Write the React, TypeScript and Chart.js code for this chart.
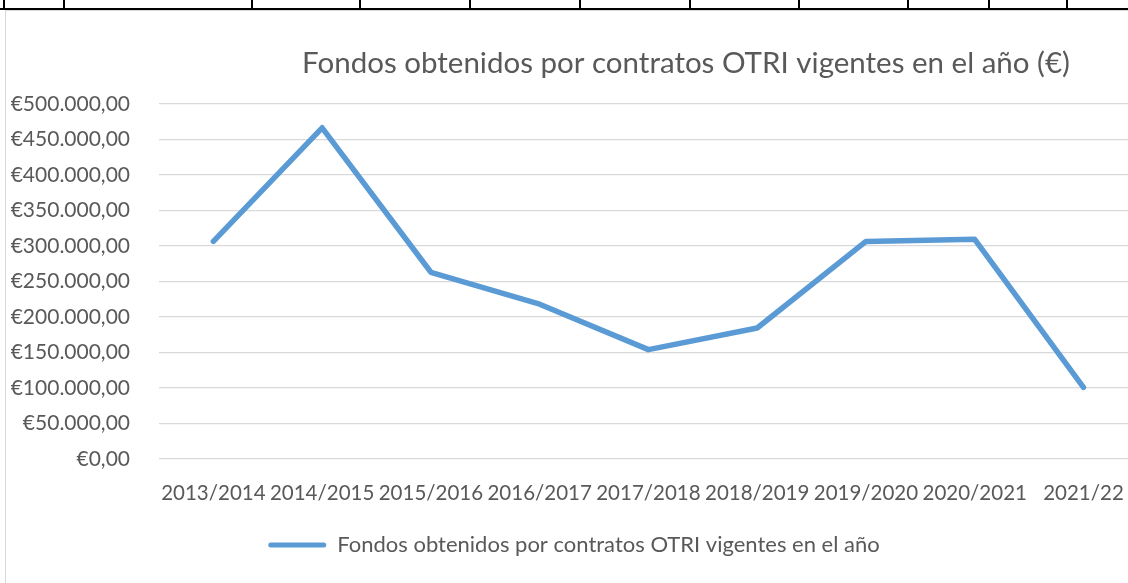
import React, { useEffect, useRef } from "react";
import { Chart, registerables } from "chart.js";

Chart.register(...registerables);

const categories = [
  "2013/2014",
  "2014/2015",
  "2015/2016",
  "2016/2017",
  "2017/2018",
  "2018/2019",
  "2019/2020",
  "2020/2021",
  "2021/22",
];
const fondos = [306500, 466500, 263000, 218000, 154000, 184500, 306500, 309500, 101000];
const seriesLabel = "Fondos obtenidos por contratos OTRI vigentes en el año";
const chartTitle = "Fondos obtenidos por contratos OTRI vigentes en el año (€)";
const yMin = 0;
const yMax = 500000;
const yStep = 50000;

const sheetColumnLines = [3, 63, 251, 359, 469, 579, 689, 798, 907, 988, 1066];

const TEXT = "#595959";
const GRID = "#D9D9D9";
const BLUE = "#5B9BD5";
const FONT = "Lato, 'Liberation Sans', sans-serif";

function euro(v: number): string {
  const intPart = Math.round(v).toString().replace(/\B(?=(\d{3})+(?!\d))/g, ".");
  return "€" + intPart + ",00";
}

const titlePlugin = {
  id: "excelTitle",
  afterDraw(chart: any) {
    const ctx = chart.ctx;
    ctx.save();
    ctx.font = `29.5px ${FONT}`;
    ctx.fillStyle = TEXT;
    ctx.textAlign = "center";
    ctx.textBaseline = "middle";
    ctx.fillText(chartTitle, 680, 52);
    ctx.restore();
  },
};

export default function App() {
  const ref = useRef<HTMLCanvasElement | null>(null);

  useEffect(() => {
    if (!ref.current) return;
    const chart = new Chart(ref.current, {
      type: "line",
      data: {
        labels: categories,
        datasets: [
          {
            label: seriesLabel,
            data: fondos,
            borderColor: BLUE,
            backgroundColor: BLUE,
            borderWidth: 5.5,
            borderCapStyle: "round",
            borderJoinStyle: "round",
            pointRadius: 0,
            pointHoverRadius: 0,
            tension: 0,
            fill: false,
          },
        ],
      },
      options: {
        animation: false,
        responsive: false,
        maintainAspectRatio: false,
        layout: { padding: { top: 93, bottom: 17, left: 0, right: 4 } },
        plugins: {
          title: { display: false },
          tooltip: { enabled: false },
          legend: {
            position: "bottom",
            labels: {
              color: TEXT,
              font: { family: FONT, size: 22 },
              boxWidth: 58,
              boxHeight: 5,
              useBorderRadius: true,
              borderRadius: 2.5,
              generateLabels: (c: any) =>
                c.data.datasets.map((d: any, i: number) => ({
                  text: d.label,
                  fillStyle: BLUE,
                  strokeStyle: BLUE,
                  lineWidth: 0,
                  borderRadius: 2.5,
                  fontColor: TEXT,
                  datasetIndex: i,
                  hidden: false,
                })),
            },
          },
        },
        scales: {
          x: {
            type: "category",
            offset: true,
            grid: { display: false, drawTicks: false },
            border: { display: false },
            ticks: {
              color: TEXT,
              font: { family: FONT, size: 20.5 },
              padding: 22,
              maxRotation: 0,
              minRotation: 0,
              autoSkip: false,
            },
            afterFit: (s: any) => {
              s.height = 65;
            },
          },
          y: {
            min: yMin,
            max: yMax,
            grid: { color: GRID, lineWidth: 1.3, drawTicks: false },
            border: { display: false },
            ticks: {
              stepSize: yStep,
              color: TEXT,
              font: { family: FONT, size: 21 },
              padding: 29,
              callback: (v: any) => euro(Number(v)),
            },
            afterFit: (s: any) => {
              s.width = 153;
            },
          },
        },
      },
      plugins: [titlePlugin],
    });
    return () => chart.destroy();
  }, []);

  return (
    <div
      style={{
        position: "fixed",
        left: 0,
        top: 0,
        width: 1128,
        height: 583,
        overflow: "hidden",
        background: "#fff",
      }}
    >
      <div style={{ position: "absolute", left: 0, top: 8, width: 1128, height: 2, background: "#000" }} />
      {sheetColumnLines.map((x) => (
        <div key={x} style={{ position: "absolute", left: x, top: 0, width: 2, height: 10, background: "#000" }} />
      ))}
      <div style={{ position: "absolute", left: 5, top: 10, width: 1123, height: 1, background: GRID }} />
      <div style={{ position: "absolute", left: 5, top: 10, width: 1, height: 573, background: GRID }} />
      <canvas
        ref={ref}
        width={1140}
        height={572}
        style={{ position: "absolute", left: 6, top: 11, width: 1140, height: 572 }}
      />
    </div>
  );
}
